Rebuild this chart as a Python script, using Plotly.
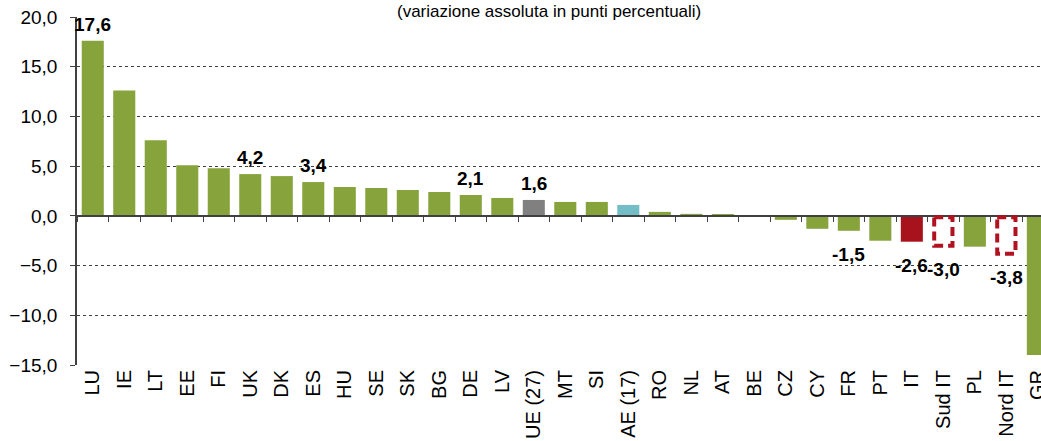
import plotly.graph_objects as go

categories = ["LU", "IE", "LT", "EE", "FI", "UK", "DK", "ES", "HU", "SE", "SK", "BG", "DE", "LV",
              "UE (27)", "MT", "SI", "AE (17)", "RO", "NL", "AT", "BE", "CZ", "CY", "FR", "PT",
              "IT", "Sud IT", "PL", "Nord IT", "GR"]
values = [17.6, 12.6, 7.6, 5.1, 4.8, 4.2, 4.0, 3.4, 2.9, 2.8, 2.6, 2.4, 2.1, 1.8,
          1.6, 1.4, 1.4, 1.1, 0.4, 0.2, 0.1, 0.0, -0.4, -1.3, -1.5, -2.5,
          -2.6, -3.0, -3.1, -3.8, -14.0]
labeled = ["LU", "UK", "ES", "DE", "UE (27)", "FR", "IT", "Sud IT", "Nord IT"]
subtitle = "(variazione assoluta in punti percentuali)"

GREEN = "#86A33C"
special_colors = {"UE (27)": "#808080", "AE (17)": "#72BDC6", "IT": "#A8121D"}
outlined = ["Sud IT", "Nord IT"]
RED = "#B0121F"
FONT = "Liberation Sans, Arial, sans-serif"
BAR_W = 0.7

colors = []
for c in categories:
    if c in outlined:
        colors.append("rgba(255,255,255,0)")
    else:
        colors.append(special_colors.get(c, GREEN))

fig = go.Figure()
fig.add_trace(go.Bar(x=categories, y=values, marker=dict(color=colors, line=dict(width=0)),
                     width=BAR_W, hoverinfo="x+y", showlegend=False))
# helper trace for the axis drawn at y = 0
fig.add_trace(go.Scatter(x=categories, y=[None] * len(categories), xaxis="x2", mode="markers",
                         showlegend=False, hoverinfo="skip"))

ymin, ymax = -15, 20
shapes = []
for i, (c, v) in enumerate(zip(categories, values)):
    if c in outlined:
        shapes.append(dict(type="rect", xref="x", yref="y", x0=i - BAR_W / 2 + 0.06,
                           x1=i + BAR_W / 2 - 0.06, y0=-0.15, y1=v,
                           line=dict(color=RED, width=4, dash="9px,5px"),
                           fillcolor="rgba(255,255,255,0)"))

annotations = []
for c, v in zip(categories, values):
    if c in labeled:
        txt = f"{v:.1f}".replace(".", ",")
        annotations.append(dict(x=c, y=v, xref="x", yref="y", text=f"<b>{txt}</b>", showarrow=False,
                                yanchor="bottom" if v >= 0 else "top",
                                yshift=4 if v >= 0 else -11,
                                font=dict(family=FONT, size=19, color="#000000")))

T, B, L = 17, 76, 77
plot_h = 441 - T - B
annotations.append(dict(x=0.49, y=1 + T / plot_h, xref="paper", yref="paper", text=subtitle,
                        showarrow=False, xanchor="center", yanchor="top",
                        font=dict(family=FONT, size=17, color="#000000")))

n = len(categories)
xr = [-0.5, n - 1 + 0.1]
fig.update_layout(
    width=1041, height=441,
    margin=dict(l=L, r=0, t=T, b=B),
    paper_bgcolor="white", plot_bgcolor="white",
    separators=",.",
    bargap=0.3,
    shapes=shapes, annotations=annotations,
    font=dict(family=FONT, color="#000000"),
    xaxis=dict(type="category", range=xr, tickangle=-90, showline=False, ticks="",
               showgrid=False, automargin=False,
               tickfont=dict(family=FONT, size=20, color="#000000")),
    xaxis2=dict(type="category", overlaying="x", matches="x", anchor="free",
                position=(0 - ymin) / (ymax - ymin), showticklabels=False,
                showline=True, linecolor="#404040", linewidth=1.5,
                ticks="outside", tickson="boundaries", ticklen=5, tickcolor="#404040",
                showgrid=False, side="bottom", automargin=False),
    yaxis=dict(range=[ymin, ymax], dtick=5, tickformat=".1f", showgrid=True,
               gridcolor="#404040", griddash="3px,3px", gridwidth=1,
               zeroline=False, showline=True, linecolor="#404040", linewidth=1.5,
               ticks="outside", ticklen=5, tickcolor="#404040", ticklabelstandoff=9,
               automargin=False,
               tickfont=dict(family=FONT, size=19, color="#000000")),
)

fig.write_html("out.html", config={"displayModeBar": False},
               post_script="document.body.style.margin='0';")
